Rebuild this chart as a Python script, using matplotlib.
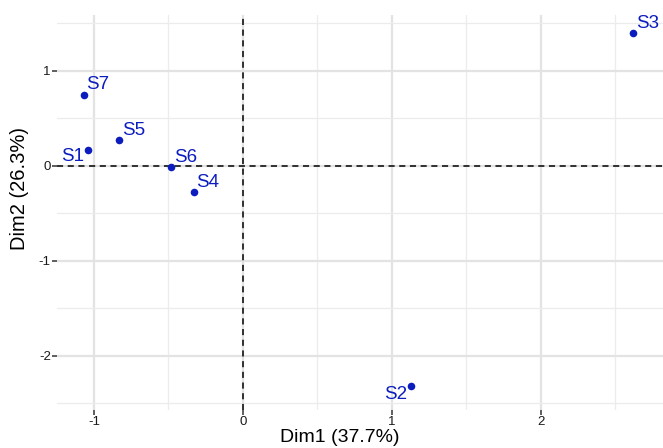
import matplotlib.pyplot as plt
import numpy as np

# DATA
labels = ['S1', 'S2', 'S3', 'S4', 'S5', 'S6', 'S7']
dim1 = [-1.04, 1.13, 2.62, -0.33, -0.83, -0.48, -1.07]
dim2 = [0.17, -2.32, 1.40, -0.28, 0.27, -0.01, 0.75]
xticks = [-1, 0, 1, 2]
yticks = [-2, -1, 0, 1]

# label offsets (points) to mimic ggrepel placement
offsets = {
    'S1': (-3, -5, 'right'),
    'S2': (-3, -6, 'right'),
    'S3': (2, 7, 'left'),
    'S4': (2, 7, 'left'),
    'S5': (2, 7, 'left'),
    'S6': (2, 7, 'left'),
    'S7': (2, 7, 'left'),
}

plt.rcParams['font.family'] = ['Liberation Sans', 'DejaVu Sans']
plt.rcParams['axes.unicode_minus'] = False
blue = '#0B1DBF'

fig = plt.figure(figsize=(6.63, 4.48), dpi=100)
ax = fig.add_axes([0.086, 0.085, 0.914, 0.882])

ax.scatter(dim1, dim2, s=30, color=blue, zorder=3, linewidths=0)
for lab, x, y in zip(labels, dim1, dim2):
    dx, dy, ha = offsets[lab]
    ax.annotate(lab, (x, y), xytext=(dx, dy), textcoords='offset points',
                ha=ha, va='center', color=blue, fontsize=13.5, zorder=4)

ax.axhline(0, color='black', linestyle=(0, (4, 3)), linewidth=1.1, zorder=2)
ax.axvline(0, color='black', linestyle=(0, (4, 3)), linewidth=1.1, zorder=2)

ax.set_xlim(-1.248, 2.82)
ax.set_ylim(-2.57, 1.59)
ax.set_xticks(xticks)
ax.set_yticks(yticks)
ax.set_xticks(np.arange(-1.0, 3.0, 0.5), minor=True)
ax.set_yticks(np.arange(-2.5, 1.6, 0.5), minor=True)
ax.grid(which='major', color='#e3e3e3', linewidth=1.6, zorder=0)
ax.grid(which='minor', color='#ececec', linewidth=0.9, zorder=0)
ax.set_axisbelow(True)
for s in ax.spines.values():
    s.set_visible(False)
ax.tick_params(which='major', length=3.5, width=1.1, color='#333333',
               labelsize=9.5, labelcolor='#1a1a1a', pad=1)
ax.tick_params(which='minor', length=0)

ax.set_xlabel('Dim1 (37.7%)', fontsize=14)
ax.set_ylabel('Dim2 (26.3%)', fontsize=14.5)
ax.xaxis.set_label_coords(0.467, -0.049)
ax.yaxis.set_label_coords(-0.046, 0.56)

fig.savefig('out.png', dpi=100)
